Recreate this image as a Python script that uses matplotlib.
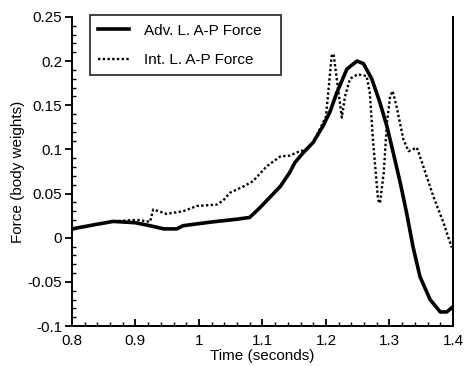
import matplotlib
matplotlib.use("Agg")
import matplotlib.pyplot as plt
from matplotlib.ticker import MultipleLocator

plt.rcParams["font.family"] = ["Liberation Sans", "DejaVu Sans"]

# Adv. L. A-P Force (solid)
adv_t = [0.80, 0.83, 0.865, 0.90, 0.923, 0.945, 0.965, 0.975, 1.00, 1.022, 1.06,
         1.08, 1.096, 1.112, 1.128, 1.143, 1.151, 1.164, 1.18, 1.195, 1.206, 1.217,
         1.233, 1.249, 1.259, 1.272, 1.285, 1.296, 1.306, 1.317, 1.327, 1.337,
         1.348, 1.364, 1.38, 1.39, 1.40]
adv_f = [0.010, 0.014, 0.0185, 0.017, 0.0136, 0.010, 0.010, 0.0136, 0.016, 0.018, 0.021,
         0.023, 0.034, 0.046, 0.058, 0.074, 0.085, 0.096, 0.108, 0.126, 0.142, 0.164,
         0.191, 0.200, 0.197, 0.180, 0.153, 0.126, 0.096, 0.062, 0.028, -0.010,
         -0.044, -0.070, -0.084, -0.084, -0.078]

# Int. L. A-P Force (dotted)
int_t = [0.80, 0.83, 0.865, 0.895, 0.905, 0.923, 0.928, 0.949, 0.975, 0.997, 1.028,
         1.038, 1.049, 1.07, 1.085, 1.107, 1.128, 1.143, 1.159, 1.167, 1.18, 1.20,
         1.209, 1.212, 1.217, 1.225, 1.23, 1.238, 1.25, 1.264, 1.269, 1.274, 1.282,
         1.285, 1.291, 1.296, 1.301, 1.305, 1.311, 1.322, 1.33, 1.343, 1.348, 1.369,
         1.385, 1.398]
int_f = [0.010, 0.014, 0.0185, 0.020, 0.020, 0.018, 0.032, 0.027, 0.030, 0.036, 0.0375,
         0.042, 0.051, 0.058, 0.064, 0.081, 0.092, 0.093, 0.098, 0.099, 0.108, 0.137,
         0.206, 0.208, 0.180, 0.136, 0.160, 0.180, 0.185, 0.183, 0.164, 0.111, 0.043,
         0.039, 0.074, 0.130, 0.160, 0.166, 0.149, 0.111, 0.098, 0.102, 0.092, 0.047,
         0.017, -0.011]

fig = plt.figure(figsize=(4.67, 3.66), dpi=100)
ax = fig.add_axes([0.154, 0.109, 0.816, 0.845])

ax.plot(adv_t, adv_f, color="black", lw=2.6, label="Adv. L. A-P Force")
ax.plot(int_t, int_f, color="black", lw=1.7, linestyle=(0, (1, 1)),
        label="Int. L. A-P Force")

ax.set_xlim(0.8, 1.4)
ax.set_ylim(-0.1, 0.25)
ax.xaxis.set_major_locator(MultipleLocator(0.1))
ax.xaxis.set_minor_locator(MultipleLocator(0.02))
ax.yaxis.set_major_locator(MultipleLocator(0.05))
ax.yaxis.set_minor_locator(MultipleLocator(0.01))
ax.xaxis.set_major_formatter(lambda v, p: f"{v:g}")
ax.yaxis.set_major_formatter(lambda v, p: f"{v:g}" if abs(v) > 1e-9 else "0")

ax.spines["top"].set_visible(False)
for s in ("left", "bottom", "right"):
    ax.spines[s].set_linewidth(1.4)

ax.tick_params(axis="y", which="major", direction="out", length=5, width=1.3,
               labelsize=11, pad=2)
ax.tick_params(axis="y", which="minor", direction="in", length=3, width=1.0)
ax.tick_params(axis="x", which="major", direction="in", length=5, width=1.3,
               labelsize=11, pad=6)
ax.tick_params(axis="x", which="minor", direction="in", length=3, width=1.0)

ax.set_xlabel("Time (seconds)", fontsize=11, labelpad=0.5)
ax.set_ylabel("Force (body weights)", fontsize=11, labelpad=2)

leg = ax.legend(loc="upper left", bbox_to_anchor=(0.047, 0.80, 0.502, 0.205),
                mode="expand", fontsize=11, frameon=True, fancybox=False,
                edgecolor="black", handlelength=2.0, handletextpad=1.0,
                borderpad=0.55, labelspacing=1.0, borderaxespad=0.0)
leg.get_frame().set_linewidth(1.3)

fig.savefig("out.png", dpi=100)
